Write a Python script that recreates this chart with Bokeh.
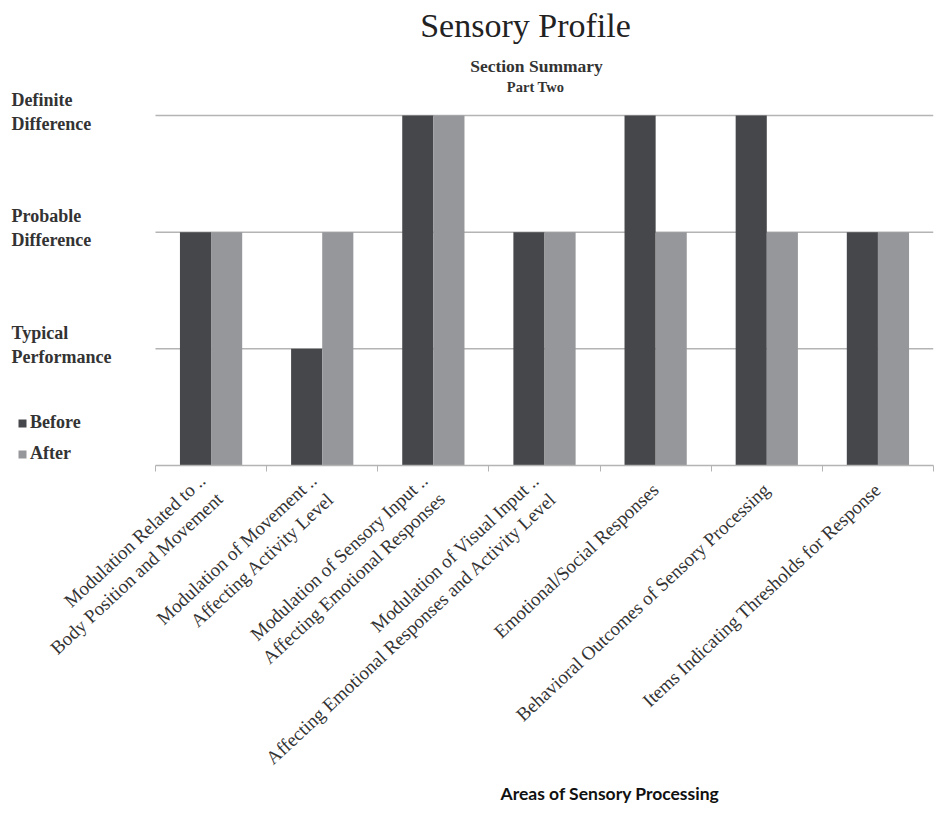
from math import radians

from bokeh.embed import file_html
from bokeh.models import FixedTicker, Label, Legend, LegendItem, Range1d, Title
from bokeh.plotting import figure
from bokeh.resources import INLINE

# ---- data -------------------------------------------------------------
categories = [
    "Modulation Related to ..\nBody Position and Movement",
    "Modulation of Movement ..\nAffecting Activity Level",
    "Modulation of Sensory Input ..\nAffecting Emotional Responses",
    "Modulation of Visual Input ..\nAffecting Emotional Responses and Activity Level",
    "Emotional/Social Responses",
    "Behavioral Outcomes of Sensory Processing",
    "Items Indicating Thresholds for Response",
]
before = [2, 1, 3, 2, 3, 3, 2]
after = [2, 2, 3, 2, 2, 2, 2]

level_values = [1, 2, 3]
level_labels = ["Typical\nPerformance", "Probable\nDifference", "Definite\nDifference"]

# ---- styling ----------------------------------------------------------
DARK = "#46474a"
LIGHT = "#96979a"
GRID = "#b4b4b4"
TEXT = "#333333"
SERIF = "Liberation Serif"
BAR_W = 0.28

W, H = 937, 834
BAR_LEFT, BAR_RIGHT = 155, 933      # pixel extent of the bar area
BASE_Y, TOP_Y = 465, 115            # pixel rows of the zero line and top level

n = len(categories)
centers = [i + 0.5 for i in range(n)]
bounds = [float(i) for i in range(n + 1)]

# the frame covers the whole upper canvas so captions, legend and titles
# can live inside it; ranges are extended so 0..n / 0..3 land on the bar area
ux = (BAR_RIGHT - BAR_LEFT) / n
uy = (BASE_Y - TOP_Y) / max(level_values)
x_range = Range1d(-BAR_LEFT / ux, n)
y_range = Range1d(0, BASE_Y / uy)

p = figure(
    width=W, height=H, x_range=x_range, y_range=y_range,
    output_backend="svg", toolbar_location=None,
    min_border_left=0, min_border_right=W - BAR_RIGHT,
    min_border_top=0, min_border_bottom=H - BASE_Y,
)
p.outline_line_color = None
p.background_fill_color = "white"
p.xgrid.visible = False
p.ygrid.visible = False
p.yaxis.visible = False

# horizontal level lines across the bar area
p.segment(x0=[0] * len(level_values), x1=[n] * len(level_values),
          y0=level_values, y1=level_values, line_color=GRID, line_width=1.5)

rb = p.vbar(x=[c - BAR_W / 2 for c in centers], top=before, width=BAR_W,
            fill_color=DARK, line_color=None)
ra = p.vbar(x=[c + BAR_W / 2 for c in centers], top=after, width=BAR_W,
            fill_color=LIGHT, line_color=None)

# category axis: labels at bar-group centres, tick marks between groups
xa = p.xaxis[0]
xa.bounds = (0, n)
xa.ticker = FixedTicker(ticks=centers, minor_ticks=bounds)
xa.major_label_overrides = {c: lab for c, lab in zip(centers, categories)}
xa.major_label_orientation = radians(43)
xa.major_label_standoff = 15
xa.major_label_text_font = SERIF
xa.major_label_text_font_size = "19px"
xa.major_label_text_color = TEXT
xa.axis_line_color = GRID
xa.axis_line_width = 1.5
xa.major_tick_line_color = None
xa.minor_tick_line_color = GRID
xa.minor_tick_in = 0
xa.minor_tick_out = 6

# performance-level captions on the left
for v, lab in zip(level_values, level_labels):
    p.add_layout(Label(
        x=11, x_units="screen", y=v, y_offset=4, text=lab,
        text_align="left", text_baseline="middle",
        text_font=SERIF, text_font_style="bold", text_font_size="18px",
        text_color=TEXT,
    ))

legend = Legend(
    items=[LegendItem(label="Before", renderers=[rb]),
           LegendItem(label="After", renderers=[ra])],
    location=(17, 1),
    background_fill_alpha=0, border_line_color=None,
    glyph_width=10, glyph_height=10, label_standoff=3,
    label_height=21, spacing=10, padding=0, margin=0,
    label_text_font=SERIF, label_text_font_style="bold",
    label_text_font_size="18px", label_text_color=TEXT,
)
p.add_layout(legend)

# titles
p.add_layout(Label(x=525, y=BASE_Y - 25, x_units="screen", y_units="screen",
                   text="Sensory Profile", text_align="center", text_baseline="middle",
                   text_font=SERIF, text_font_size="34px", text_color="#222222"))
p.add_layout(Label(x=536, y=BASE_Y - 65, x_units="screen", y_units="screen",
                   text="Section Summary", text_align="center", text_baseline="middle",
                   text_font=SERIF, text_font_style="bold", text_font_size="17.5px",
                   text_color=TEXT))
p.add_layout(Label(x=535, y=BASE_Y - 86, x_units="screen", y_units="screen",
                   text="Part Two", text_align="center", text_baseline="middle",
                   text_font=SERIF, text_font_style="bold", text_font_size="14.5px",
                   text_color=TEXT))

# axis title sits snugly under the rotated category labels
p.add_layout(Title(text="Areas of Sensory Processing", align="left",
                   offset=500, standoff=-16,
                   text_font="Lato", text_font_style="bold",
                   text_font_size="17.5px", text_color="#111111"), "below")

open("out.html", "w").write(file_html(p, INLINE))
